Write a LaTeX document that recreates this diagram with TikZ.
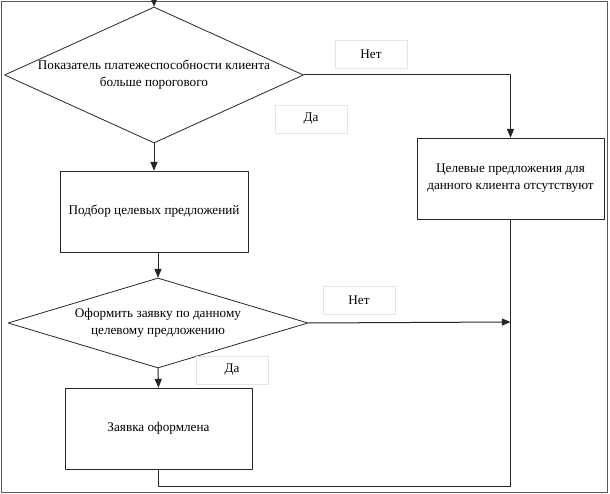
\documentclass[tikz,border=0pt]{standalone}
\usepackage{fontspec}
\setmainfont{Liberation Serif}
\usetikzlibrary{arrows,shapes.geometric}

\begin{document}
\begin{tikzpicture}[line cap=round,line join=round,>=triangle 45,x=1pt,y=-1pt,
	font=\fontsize{13.2}{17}\selectfont,
	block/.style={draw=black!85,line width=0.8pt,minimum width=187,minimum height=81,inner sep=2pt,align=center},
	decision/.style={draw=black!85,line width=0.8pt,shape=diamond,inner sep=0pt,align=center},
	answer/.style={draw=black!10,line width=0.6pt,minimum width=72,minimum height=28,inner sep=0pt},
	link/.style={line width=1pt,color=black!85}]
\useasboundingbox (0,0) rectangle (610,494);
\draw [line width=0.6pt,color=black!65] (1.5,1.5) rectangle (607.5,492.5);
% blocks
\node [decision,aspect=2.2,inner xsep=-14pt,minimum width=299,minimum height=136] (porog) at (154,75) {Показатель платежеспособности клиента\\больше порогового};
\node [block,minimum width=188] (podbor) at (154,211.5) {Подбор целевых предложений};
\node [decision,aspect=3.33,minimum width=300,minimum height=90] (oform) at (158,323) {Оформить заявку по данному\\целевому предложению};
\node [block] (zayavka) at (158.5,428.5) {Заявка оформлена};
\node [block] (net) at (510.5,178.5) {Целевые предложения для\\данного клиента отсутствуют};
% answers
\node [answer] (net1) at (371,54) {Нет};
\node [answer] (da1) at (311,119) {Да};
\node [answer] (net2) at (359,300) {Нет};
\node [answer] (da2) at (232,370) {Да};
% connectors
\coordinate (start) at (154,0);
\coordinate (merge) at (510.5,322);
\coordinate (corner) at (510.5,486);
\draw [link,->] (start) -- (porog.north);
\draw [link,->] (porog.south) -- (podbor.north);
\draw [link,->] (porog.east) -| (net.north);
\draw [link,->] (podbor.south -| oform.north) -- (oform.north);
\draw [link,->] (oform.east) -- (merge);
\draw [link,->] (oform.south) -- (zayavka.north);
\draw [link] (zayavka.south) |- (corner) -- (net.south);
\end{tikzpicture}
\end{document}
